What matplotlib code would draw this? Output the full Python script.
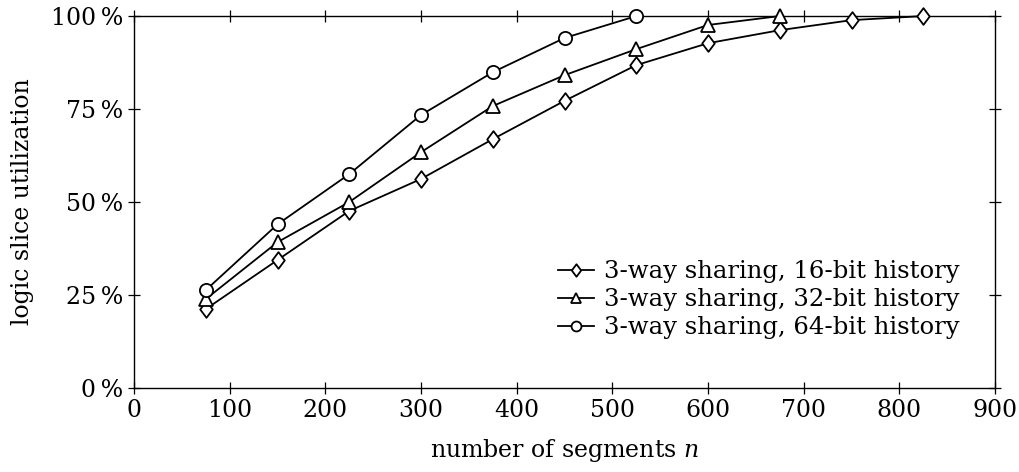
import matplotlib

matplotlib.use("Agg")
import matplotlib.pyplot as plt  # noqa: E402
from matplotlib.path import Path  # noqa: E402
from matplotlib.ticker import FuncFormatter  # noqa: E402

plt.rcParams["font.family"] = "DejaVu Serif"
plt.rcParams["mathtext.fontset"] = "dejavuserif"

segments = [75, 150, 225, 300, 375, 450, 525, 600, 675, 750, 825]
util_16bit = [21.2, 34.4, 47.6, 56.2, 66.9, 77.2, 86.8, 92.7, 96.2, 98.9, 100.0]
util_32bit = [23.9, 39.2, 50.0, 63.4, 75.8, 84.1, 91.1, 97.6, 100.0]
util_64bit = [26.3, 44.0, 57.5, 73.4, 84.9, 94.1, 100.0]
labels = ["3-way sharing, 16-bit history",
          "3-way sharing, 32-bit history",
          "3-way sharing, 64-bit history"]

# pgfplots-like diamond: a bit wider than matplotlib's "d"
diamond = Path([(0, 1), (0.75, 0), (0, -1), (-0.75, 0), (0, 1)], closed=True)

fig = plt.figure(figsize=(10.19, 4.72), dpi=100)
ax = fig.add_axes([0.1315, 0.178, 0.845, 0.788])

style = dict(color="black", lw=1.3, mfc="white", mec="black", mew=1.3, clip_on=False, zorder=3)
ax.plot(segments[:len(util_16bit)], util_16bit, marker=diamond, ms=12, label=labels[0], **style)
ax.plot(segments[:len(util_32bit)], util_32bit, marker="^", ms=10, label=labels[1], **style)
ax.plot(segments[:len(util_64bit)], util_64bit, marker="o", ms=9.5, label=labels[2], **style)

ax.set_xlim(0, 900)
ax.set_ylim(0, 100)
ax.set_xticks(range(0, 901, 100))
ax.set_yticks([0, 25, 50, 75, 100])
ax.yaxis.set_major_formatter(FuncFormatter(lambda v, p: f"{int(v)}\u2009%"))
ax.tick_params(direction="inout", length=8, width=0.9, top=True, right=True,
               labelsize=17, pad=4)
for s in ax.spines.values():
    s.set_linewidth(1.0)

ax.set_xlabel(r"number of segments $n$", fontsize=17, labelpad=11)
ax.set_ylabel("logic slice utilization", fontsize=17, labelpad=12)

ax.legend(loc="lower right", frameon=False, fontsize=17.5, handlelength=1.5,
          handletextpad=0.4, labelspacing=0.2, markerscale=0.75,
          borderaxespad=0, bbox_to_anchor=(0.97, 0.105))

fig.savefig("out.png", dpi=100)
